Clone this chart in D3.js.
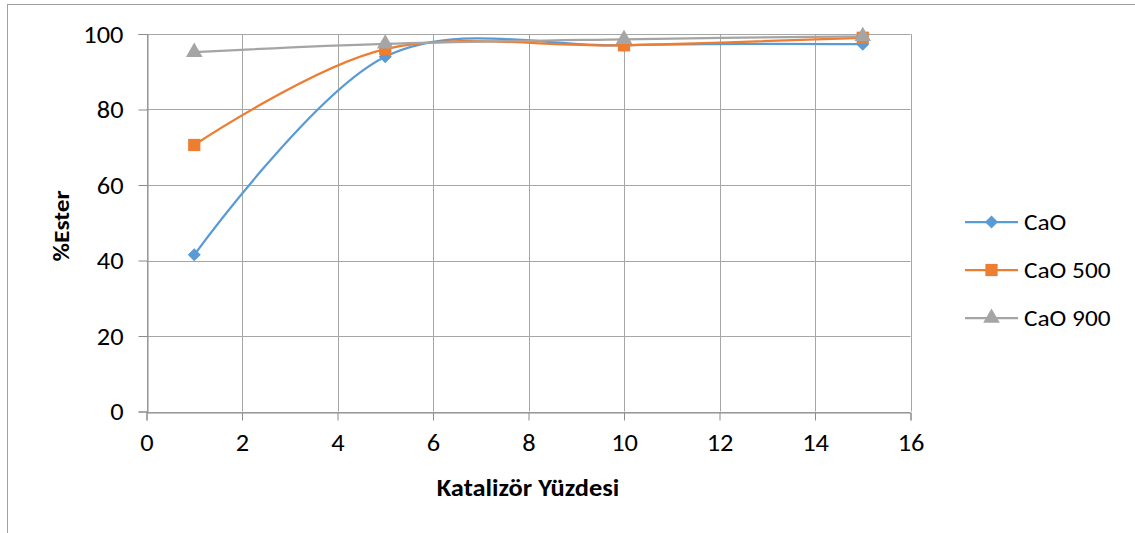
<!DOCTYPE html>
<html>
<head>
<meta charset="utf-8">
<script src="https://cdn.jsdelivr.net/npm/d3@7"></script>
<style>
  html, body { margin: 0; padding: 0; background: #fff; }
  svg { display: block; font-family: Carlito, Calibri, Lato, "Open Sans", sans-serif; }
</style>
</head>
<body>
<svg id="chart" width="1135" height="533"></svg>
<script>
// Catalyst percentage (x) vs ester yield (%)
const catalyst = [1, 5, 10, 15];
const seriesNames = ["CaO", "CaO 500", "CaO 900"];
const cao    = [41.5, 94.0, 97.0, 97.3];
const cao500 = [70.6, 96.0, 97.0, 99.0];
const cao900 = [95.2, 97.4, 98.6, 99.4];
const xTicks = [0, 2, 4, 6, 8, 10, 12, 14, 16];
const yTicks = [0, 20, 40, 60, 80, 100];

const colors = ["#5B9BD5", "#ED7D31", "#A5A5A5"];
const markers = ["diamond", "square", "triangle"];
const seriesValues = [cao, cao500, cao900];

const svg = d3.select("#chart");
const W = 1135, H = 533;
const FONT = 24;

// outer chart frame
svg.append("rect").attr("x", 7.5).attr("y", 4.5).attr("width", W).attr("height", H)
  .attr("fill", "#fff").attr("stroke", "#a0a0a0").attr("stroke-width", 1);

const plotL = 146.5, plotR = 910.5, plotT = 34, plotB = 411.5;
const x = d3.scaleLinear().domain([0, 16]).range([plotL, plotR]);
const y = d3.scaleLinear().domain([0, 100]).range([plotB, plotT]);

const gridColor = "#a6a6a6";

// grid
svg.append("g").selectAll("line").data(xTicks).join("line")
  .attr("x1", d => Math.round(x(d)) + 0.5).attr("x2", d => Math.round(x(d)) + 0.5)
  .attr("y1", plotT).attr("y2", plotB)
  .attr("stroke", gridColor).attr("stroke-width", 1);
svg.append("g").selectAll("line").data(yTicks).join("line")
  .attr("x1", plotL).attr("x2", plotR)
  .attr("y1", d => Math.round(y(d)) + 0.5).attr("y2", d => Math.round(y(d)) + 0.5)
  .attr("stroke", gridColor).attr("stroke-width", 1);

// axes
const xAxis = d3.axisBottom(x).tickValues(xTicks).tickSize(8).tickPadding(13).tickFormat(d3.format("d"));
const yAxis = d3.axisLeft(y).tickValues(yTicks).tickSize(9).tickPadding(15).tickFormat(d3.format("d"));

const gx = svg.append("g").attr("transform", `translate(0,${Math.round(y(0)) + 0.5})`).call(xAxis);
const gy = svg.append("g").attr("transform", `translate(${Math.round(x(0)) + 0.5},0)`).call(yAxis);
[gx, gy].forEach(g => {
  g.attr("font-family", null).attr("font-size", null);
  g.select(".domain").attr("stroke", "#8c8c8c");
  g.selectAll(".tick line").attr("stroke", "#8c8c8c");
  g.selectAll(".tick text").attr("fill", "#000").attr("font-size", FONT);
});
gy.selectAll(".tick text").attr("dy", "0.35em");

// axis titles
svg.append("text").attr("x", 528).attr("y", 496).attr("text-anchor", "middle")
  .attr("font-size", FONT).attr("font-weight", "bold").attr("fill", "#000")
  .text("Katalizör Yüzdesi");
svg.append("text").attr("transform", "translate(69,226) rotate(-90)").attr("text-anchor", "middle")
  .attr("font-size", FONT - 1).attr("font-weight", "bold").attr("fill", "#000")
  .text("%Ester");

// smoothed lines
const line = d3.line().x(d => x(d[0])).y(d => y(d[1])).curve(d3.curveCardinal.tension(0));

function markerPath(type) {
  if (type === "diamond") return d3.symbol(d3.symbolSquare, 85)();
  if (type === "square") return d3.symbol(d3.symbolSquare, 150)();
  return d3.symbol(d3.symbolTriangle, 120)();
}

seriesValues.forEach((vals, i) => {
  const pts = catalyst.map((c, k) => [c, vals[k]]);
  svg.append("path").datum(pts).attr("d", line)
    .attr("fill", "none").attr("stroke", colors[i]).attr("stroke-width", 2.25);
});
seriesValues.forEach((vals, i) => {
  const pts = catalyst.map((c, k) => [c, vals[k]]);
  svg.append("g").selectAll("path").data(pts).join("path")
    .attr("d", markerPath(markers[i]))
    .attr("transform", d => `translate(${x(d[0])},${y(d[1])})` + (markers[i] === "diamond" ? " rotate(45)" : ""))
    .attr("fill", colors[i]);
});

// legend
const legend = svg.append("g");
seriesNames.forEach((name, i) => {
  const ly = 222 + i * 48;
  legend.append("line").attr("x1", 965).attr("x2", 1018).attr("y1", ly).attr("y2", ly)
    .attr("stroke", colors[i]).attr("stroke-width", 2.25);
  legend.append("path").attr("d", markerPath(markers[i]))
    .attr("transform", `translate(991.5,${ly})` + (markers[i] === "diamond" ? " rotate(45)" : ""))
    .attr("fill", colors[i]);
  legend.append("text").attr("x", 1024).attr("y", ly).attr("dy", "0.35em")
    .attr("font-size", FONT - 1).attr("fill", "#000").text(name);
});

// widen all glyphs slightly for the wide label face
svg.selectAll("text").each(function () {
  const len = this.getComputedTextLength();
  d3.select(this).attr("textLength", len * 1.1).attr("lengthAdjust", "spacingAndGlyphs");
});
</script>
</body>
</html>
